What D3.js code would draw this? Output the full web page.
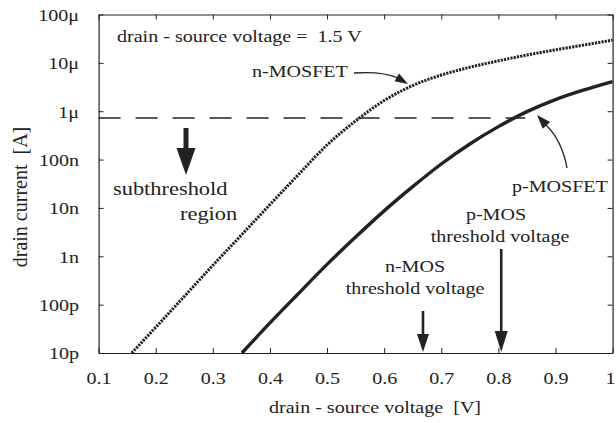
<!DOCTYPE html>
<html>
<head>
<meta charset="utf-8">
<script src="https://cdn.jsdelivr.net/npm/d3@7"></script>
<style>
  html, body { margin: 0; padding: 0; background: #fff; }
  svg { display: block; }
  text { font-family: "Liberation Serif", "Times New Roman", serif; fill: #222; }
</style>
</head>
<body>
<div id="chart"></div>
<script>
/* Drain current vs. voltage, n- and p-MOSFET, log current axis */

/* ── Data ─────────────────────────────────────────────────────────── */
const voltageN = [0.158, 0.2, 0.25, 0.3, 0.35, 0.4, 0.45, 0.5, 0.55, 0.6,
                  0.65, 0.7, 0.75, 0.8, 0.85, 0.9, 0.95, 1.0];
const currentN = [1.0e-11, 3.4e-11, 1.48e-10, 6.5e-10, 2.75e-9, 1.17e-8, 4.9e-8,
                  2.0e-7, 6.3e-7, 1.66e-6, 3.4e-6, 5.6e-6, 8.1e-6, 1.1e-5,
                  1.45e-5, 1.86e-5, 2.34e-5, 2.95e-5];

const voltageP = [0.351, 0.4, 0.45, 0.5, 0.55, 0.6, 0.65, 0.7, 0.75, 0.8,
                  0.85, 0.9, 0.95, 1.0];
const currentP = [1.0e-11, 4.2e-11, 1.7e-10, 6.8e-10, 2.5e-9, 8.7e-9, 2.75e-8,
                  8.1e-8, 2.1e-7, 4.8e-7, 9.8e-7, 1.74e-6, 2.75e-6, 4.1e-6];

const thresholdN = 0.668;          // n-MOS threshold voltage [V]
const thresholdP = 0.805;          // p-MOS threshold voltage [V]
const subthresholdCurrent = 7.2e-7; // dashed boundary [A]
const subthresholdEndV = 0.847;

const xTicks = [0.1, 0.2, 0.3, 0.4, 0.5, 0.6, 0.7, 0.8, 0.9, 1.0];
const xTickLabels = ['0.1', '0.2', '0.3', '0.4', '0.5', '0.6', '0.7', '0.8', '0.9', '1'];
const yTicks = [1e-11, 1e-10, 1e-9, 1e-8, 1e-7, 1e-6, 1e-5, 1e-4];
const yTickLabels = ['10p', '100p', '1n', '10n', '100n', '1\u03bc', '10\u03bc', '100\u03bc'];

/* ── Layout ───────────────────────────────────────────────────────── */
const TW = 616, TH = 423;
const M = { top: 14.5, right: 3.4, bottom: 70, left: 98.6 };
const SX = 1.18;    // horizontal stretch of the lettering
const FS = 17;
const INK = '#222';

const x = d3.scaleLinear().domain([0.1, 1]).range([M.left, TW - M.right]);
const y = d3.scaleLog().domain([1e-11, 1e-4]).range([TH - M.bottom, M.top]);

const svg = d3.select('#chart').append('svg')
  .attr('width', TW).attr('height', TH);

/* ── Axes (ticks point inward on all four sides) ──────────────────── */
function styleAxis(g) {
  g.selectAll('path.domain').attr('stroke', INK).attr('stroke-width', 1.2);
  g.selectAll('.tick line').attr('stroke', INK).attr('stroke-width', 1);
}

const gx = svg.append('g')
  .attr('transform', `translate(0,${y.range()[0]})`)
  .call(d3.axisBottom(x).tickValues(xTicks)
    .tickFormat((d, i) => xTickLabels[i])
    .tickSizeInner(-5).tickSizeOuter(0))
  .call(styleAxis);
gx.selectAll('.tick text')
  .attr('y', 31).attr('dy', 0)
  .attr('transform', `scale(${SX},1)`)
  .style('font-size', FS + 'px').attr('font-family', null).attr('fill', INK);
// last label sits against the right edge of the page
gx.selectAll('.tick text').filter(d => d === 1.0)
  .attr('text-anchor', 'end')
  .attr('x', (TW - 1 - x(1.0)) / SX);

const gy = svg.append('g')
  .attr('transform', `translate(${M.left},0)`)
  .call(d3.axisLeft(y).tickValues(yTicks)
    .tickFormat((d, i) => yTickLabels[i])
    .tickSizeInner(-5).tickSizeOuter(0))
  .call(styleAxis);
gy.selectAll('.tick text')
  .attr('x', -19.6 / SX).attr('dy', '0.34em')
  .attr('transform', `scale(${SX},1)`)
  .style('font-size', FS + 'px').attr('font-family', null).attr('fill', INK);

svg.append('g')
  .attr('transform', `translate(0,${M.top})`)
  .call(d3.axisTop(x).tickValues(xTicks).tickFormat('')
    .tickSizeInner(-5).tickSizeOuter(0))
  .call(styleAxis);

svg.append('g')
  .attr('transform', `translate(${TW - M.right},0)`)
  .call(d3.axisRight(y).tickValues(yTicks).tickFormat('')
    .tickSizeInner(-5).tickSizeOuter(0))
  .call(styleAxis);

/* ── Curves ───────────────────────────────────────────────────────── */
const line = d3.line()
  .x(d => x(d[0]))
  .y(d => y(d[1]))
  .curve(d3.curveMonotoneX);

// subthreshold boundary
svg.append('line')
  .attr('x1', x(0.1)).attr('x2', x(subthresholdEndV))
  .attr('y1', y(subthresholdCurrent)).attr('y2', y(subthresholdCurrent))
  .attr('stroke', INK).attr('stroke-width', 1.5)
  .attr('stroke-dasharray', '22,15');

svg.append('path')
  .datum(d3.zip(voltageN, currentN))
  .attr('d', line)
  .attr('fill', 'none').attr('stroke', INK)
  .attr('stroke-width', 3).attr('stroke-dasharray', '2.2,1.1');

svg.append('path')
  .datum(d3.zip(voltageP, currentP))
  .attr('d', line)
  .attr('fill', 'none').attr('stroke', INK)
  .attr('stroke-width', 3.4);

/* ── Annotations ──────────────────────────────────────────────────── */
function label(px, py, str, size, anchor) {
  svg.append('text')
    .attr('transform', `translate(${px},${py}) scale(${SX},1)`)
    .attr('text-anchor', anchor || 'start')
    .style('font-size', (size || FS) + 'px')
    .text(str);
}

// filled arrow head, tip at (tx,ty), pointing along angle (radians)
function head(tx, ty, ang, len, wid) {
  const bx = tx - len * Math.cos(ang), by = ty - len * Math.sin(ang);
  const nx = -Math.sin(ang) * wid / 2, ny = Math.cos(ang) * wid / 2;
  svg.append('path')
    .attr('d', `M${tx},${ty}L${bx + nx},${by + ny}L${bx - nx},${by - ny}Z`)
    .attr('fill', INK);
}

function downArrow(px, y0, y1, shaft, len, wid) {
  svg.append('line')
    .attr('x1', px).attr('x2', px).attr('y1', y0).attr('y2', y1 - len + 1)
    .attr('stroke', INK).attr('stroke-width', shaft);
  head(px, y1, Math.PI / 2, len, wid);
}

label(117, 42, 'drain - source voltage =\u00a0 1.5 V');
label(252, 77, 'n-MOSFET');
label(113, 195, 'subthreshold', 19);
label(180, 220, 'region', 19);
label(512, 192, 'p-MOSFET');
label(496, 220, 'p-MOS', FS, 'middle');
label(500, 242, 'threshold voltage', FS, 'middle');
label(415, 272, 'n-MOS', FS, 'middle');
label(415, 294, 'threshold voltage', FS, 'middle');

// n-MOSFET pointer
svg.append('path')
  .attr('d', 'M354,73 Q382,71 398,78')
  .attr('fill', 'none').attr('stroke', INK).attr('stroke-width', 1.3);
head(408, 84, Math.atan2(84 - 77, 408 - 396), 13, 9);

// p-MOSFET pointer
svg.append('path')
  .attr('d', 'M567,168 Q562,140 545,124')
  .attr('fill', 'none').attr('stroke', INK).attr('stroke-width', 1.3);
head(537, 115, Math.atan2(115 - 126, 537 - 547), 14, 10);

// subthreshold arrow
downArrow(186, 128, 175, 5, 27, 19);

// threshold voltage arrows
downArrow(x(thresholdN), 311, y.range()[0] - 1, 2.6, 18, 12);
downArrow(x(thresholdP), 249, y.range()[0] - 1, 2.6, 21, 13);

/* ── Axis titles ──────────────────────────────────────────────────── */
label(375, 413, 'drain - source voltage\u00a0 [V]', FS, 'middle');

svg.append('text')
  .attr('transform', 'translate(27,197) rotate(-90)')
  .attr('text-anchor', 'middle')
  .style('font-size', '20px')
  .text('drain current\u00a0 [A]');
</script>
</body>
</html>
